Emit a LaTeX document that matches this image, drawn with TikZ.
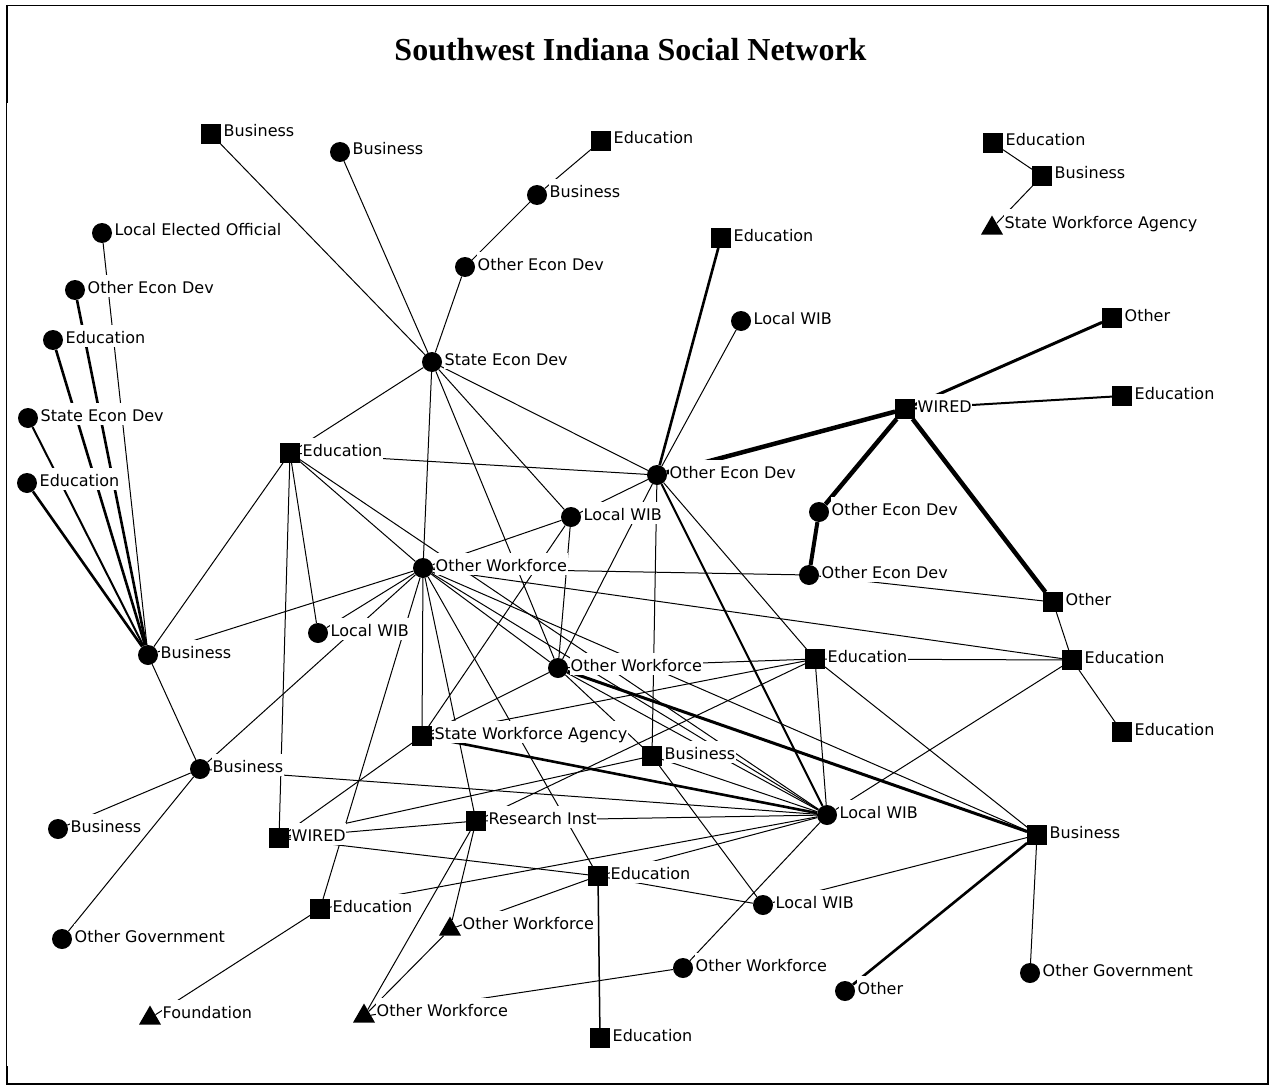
\documentclass[tikz,border=0pt]{standalone}
\usepackage{fontspec}
\newfontfamily\labfont{DejaVu Sans}
\newfontfamily\titlefont{Liberation Serif}
\usetikzlibrary{shapes.geometric}
\pgfdeclarelayer{background}
\pgfsetlayers{background,main}
\tikzset{
  sq/.style={rectangle, fill=black, minimum size=19.5pt, inner sep=0pt},
  ci/.style={circle, fill=black, minimum size=20pt, inner sep=0pt},
  tri/.style={regular polygon, regular polygon sides=3, fill=black, minimum size=25.4pt, inner sep=0pt, yshift=-3.2pt},
  lab/.style={font=\labfont\fontsize{16}{19}\selectfont, fill=white, text height=17.5pt, text depth=3pt,
    inner xsep=0.5pt, inner ysep=1pt, anchor=base west},
  tie/.style={line width=1pt},
  tie2/.style={line width=2pt},
  tie3/.style={line width=2.6pt},
  tie4/.style={line width=4.5pt},
}
% marker + white-backed label: style, name, x, y, text
\newcommand\netnode[5]{%
  \node[#1] (#2) at (#3,#4) {};
  \node[lab] (#2-t) at ({#3+12},{#4+3}) {#5};}
\begin{document}
\begin{tikzpicture}[x=1pt,y=-1pt]
\useasboundingbox (0,0) rectangle (1271,1086);
% frame
\draw[line width=1.2pt] (6.5,5.5) rectangle (1268,1084);
\draw[line width=2.2pt] (7,5) -- (7,103);
\draw[line width=2.2pt] (7,1066) -- (7,1084);
\node[font=\titlefont\bfseries\fontsize{32}{36}\selectfont, anchor=base] (title) at (630.5,61) {Southwest Indiana Social Network};

% separate component
\netnode{sq}{E1}{993}{143}{Education}
\netnode{sq}{B1}{1042}{176}{Business}
\netnode{tri}{T1}{992}{225}{State Workforce Agency}

% upper part
\netnode{sq}{sqBiz1}{211}{134}{Business}
\netnode{ci}{cBiz2}{340}{152}{Business}
\netnode{sq}{EduT}{601}{141}{Education}
\netnode{ci}{cBiz3}{537}{195}{Business}
\netnode{ci}{cOEDa}{465}{267}{Other Econ Dev}
\netnode{ci}{SED}{432}{362}{State Econ Dev}
\netnode{sq}{EduB}{721}{238}{Education}
\netnode{ci}{LWIBa}{741}{321}{Local WIB}
\netnode{ci}{OEDhub}{657}{475}{Other Econ Dev}
\netnode{sq}{WIREDa}{905}{409}{WIRED}
\netnode{sq}{OtherA}{1112}{318}{Other}
\netnode{sq}{EduC}{1122}{396}{Education}
\netnode{ci}{OEDb}{819}{512}{Other Econ Dev}
\netnode{ci}{OEDc}{809}{575}{Other Econ Dev}
\netnode{sq}{OtherB}{1053}{602}{Other}
\netnode{sq}{EduD}{1072}{660}{Education}
\netnode{sq}{EduE}{1122}{732}{Education}

% left fan
\netnode{ci}{LEO}{102}{233}{Local Elected Official}
\netnode{ci}{OEDd}{75}{290}{Other Econ Dev}
\netnode{ci}{EduF}{53}{340}{Education}
\netnode{ci}{SEDb}{28}{418}{State Econ Dev}
\netnode{ci}{EduG}{27}{483}{Education}
\netnode{ci}{BizL}{148}{655}{Business}

% centre
\netnode{sq}{EduH}{290}{453}{Education}
\netnode{ci}{LWIBb}{571}{517}{Local WIB}
\netnode{ci}{OWFa}{423}{568}{Other Workforce}
\netnode{ci}{LWIBc}{318}{633}{Local WIB}
\netnode{ci}{OWFb}{558}{668}{Other Workforce}
\netnode{sq}{EduI}{815}{659}{Education}
\netnode{sq}{SWA}{422}{736}{State Workforce Agency}
\netnode{sq}{BizD}{652}{756}{Business}
\netnode{ci}{BizE}{200}{769}{Business}
\netnode{ci}{BizF}{58}{829}{Business}
\netnode{sq}{WIREDb}{279}{838}{WIRED}
\netnode{sq}{RI}{476}{821}{Research Inst}
\netnode{ci}{LWIBd}{827}{815}{Local WIB}
\netnode{sq}{BizG}{1037}{835}{Business}
\netnode{sq}{EduJ}{598}{876}{Education}
\netnode{sq}{EduK}{320}{909}{Education}
\netnode{tri}{OWFc}{450}{926}{Other Workforce}
\netnode{ci}{LWIBe}{763}{905}{Local WIB}
\netnode{ci}{OGova}{62}{939}{Other Government}
\netnode{ci}{OWFd}{683}{968}{Other Workforce}
\netnode{ci}{OGovb}{1030}{973}{Other Government}
\netnode{ci}{OtherC}{845}{991}{Other}
\netnode{tri}{Found}{150}{1015}{Foundation}
\netnode{tri}{OWFe}{364}{1013}{Other Workforce}
\netnode{sq}{EduL}{600}{1038}{Education}

\begin{pgfonlayer}{background}
% thin ties
\foreach \a/\b in {E1/B1, B1/T1,
  sqBiz1/SED, cBiz2/SED, cOEDa/SED, cOEDa/cBiz3, cBiz3/EduT,
  SED/EduH, SED/OEDhub, SED/LWIBb, SED/OWFa, SED/OWFb,
  OEDhub/LWIBa, OEDhub/EduH, OEDhub/LWIBb, OEDhub/OWFb, OEDhub/BizD, OEDhub/EduI,
  BizL/LEO, BizL/EduH, BizL/OWFa, BizL/BizE,
  EduH/LWIBc, EduH/WIREDb, EduH/OWFa, EduH/LWIBd,
  LWIBb/OWFa, LWIBb/OWFb, LWIBb/SWA,
  OWFa/LWIBc, OWFa/BizE, OWFa/SWA, OWFa/EduK, OWFa/RI, OWFa/EduJ, OWFa/OWFb,
  OWFa/LWIBd, OWFa/BizG, OWFa/EduD, OWFa/OEDc,
  OWFb/EduI, OWFb/SWA, OWFb/BizD, OWFb/LWIBd,
  EduI/EduD, EduI/BizG, EduI/LWIBd, EduI/SWA, EduI/RI,
  OEDc/OtherB, OtherB/EduD, EduD/EduE, EduD/LWIBd,
  BizG/LWIBe, BizG/OGovb,
  BizD/LWIBd, BizD/LWIBe, BizD/WIREDb,
  BizE/LWIBd, BizE/BizF, BizE/OGova,
  WIREDb/SWA, WIREDb/RI, WIREDb/EduJ,
  RI/LWIBd, RI/OWFc, RI/OWFe,
  EduJ/LWIBe, EduJ/OWFc, EduJ/LWIBd,
  EduK/LWIBd, EduK/Found,
  OWFd/LWIBd, OWFd/OWFe, OWFe/OWFc}
  \draw[tie] (\a) -- (\b);
% stronger ties
\draw[line width=1.5pt] (EduJ) -- (EduL);
\draw[tie3] (BizL) -- (EduG);
\draw[tie2] (BizL) -- (SEDb);
\draw[tie3] (BizL) -- (EduF);
\draw[tie3] (BizL) -- (OEDd);
\draw[tie3] (OEDhub) -- (EduB);
\draw[tie2] (OEDhub) -- (LWIBd);
\draw[tie4] (OEDhub) -- (WIREDa);
\draw[tie4] (WIREDa) -- (OEDb);
\draw[line width=4pt] (OEDb) -- (OEDc);
\draw[tie4] (WIREDa) -- (OtherB);
\draw[line width=3pt] (WIREDa) -- (OtherA);
\draw[tie2] (WIREDa) -- (EduC);
\draw[tie3] (SWA) -- (LWIBd);
\draw[line width=3pt] (OWFb) -- (BizG);
\draw[tie3] (OtherC) -- (BizG);
\end{pgfonlayer}
\end{tikzpicture}
\end{document}
